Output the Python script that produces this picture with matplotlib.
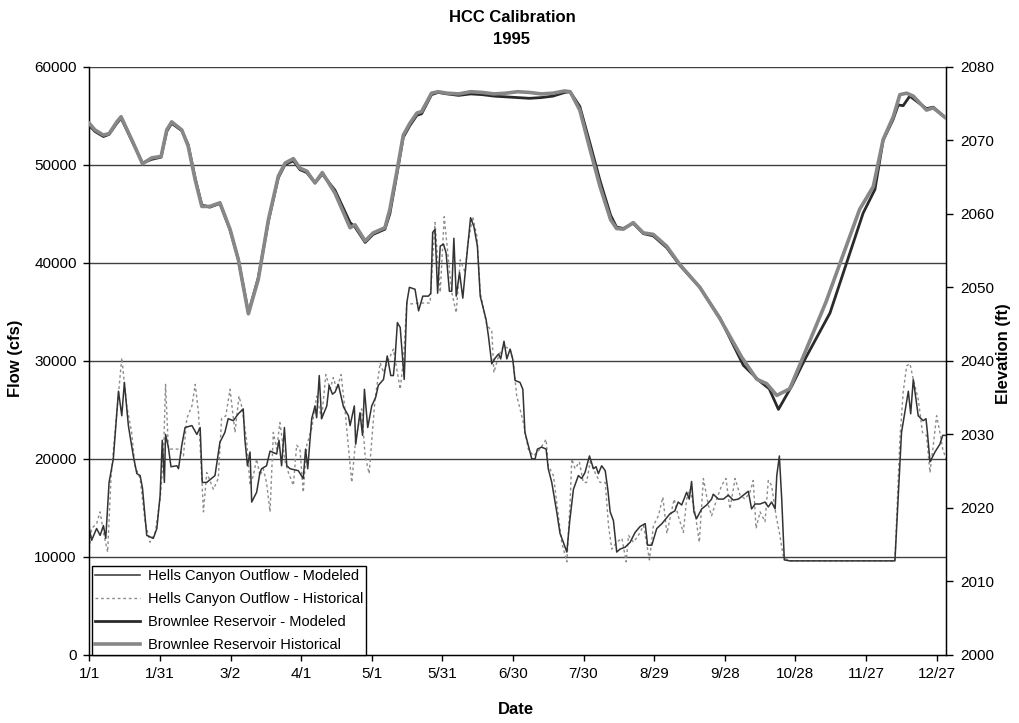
import matplotlib
matplotlib.use("Agg")
import matplotlib.pyplot as plt
from matplotlib.lines import Line2D

plt.rcParams['font.family'] = ['Liberation Sans', 'DejaVu Sans']

# ------------------------------------------------------------------
# Datos (dia del anio, 0 = 1/1)
# ------------------------------------------------------------------
tick_days = [0, 30, 60, 90, 120, 150, 180, 210, 240, 270, 300, 330, 360]
tick_labels = ["1/1", "1/31", "3/2", "4/1", "5/1", "5/31", "6/30",
               "7/30", "8/29", "9/28", "10/28", "11/27", "12/27"]

# Hells Canyon Outflow - Modeled (miles de cfs)
hc_mod_day = [0, 1.0, 3.1, 4.6, 6.0, 7.0, 8.4, 10.2, 12.4, 13.8, 14.9, 16.6, 18.7, 20.2,
              21.6, 22.6, 24.4, 27.2, 28.7, 30.1, 31.0, 31.9, 32.4, 33.6, 34.7, 37.2,
              37.9, 39.3, 40.7, 43.6, 45.7, 47.1, 48.0, 49.9, 53.4, 55.5, 57.6, 59.0,
              61.2, 63.3, 65.4, 66.1, 67.2, 68.3, 69.0, 71.1, 72.5, 73.2, 75.3, 76.8,
              79.6, 80.6, 81.7, 82.9, 83.9, 85.3, 88.8, 90.9, 91.9, 92.8, 94.5, 95.9,
              96.6, 97.7, 98.7, 100.9, 101.9, 103.3, 104.4, 105.8, 108.0, 110.1, 110.8,
              112.6, 113.2, 115.0, 116.1, 116.9, 118.3, 120.0, 121.7, 122.8, 125.0,
              126.6, 128.1, 129.2, 129.9, 130.9, 132.1, 133.8, 134.9, 136.0, 138.4,
              139.9, 141.7, 144.1, 145.1, 145.9, 146.9, 148.0, 149.1, 150.5, 151.6,
              153.0, 154.0, 154.9, 155.9, 157.3, 158.7, 160.1, 162.0, 163.4, 164.9,
              166.1, 168.6, 169.6, 171.0, 172.5, 173.9, 174.8, 176.2, 177.4, 178.8,
              179.9, 180.9, 183.0, 184.2, 185.1, 186.5, 188.0, 189.4, 190.4, 192.2,
              194.1, 195.0, 196.5, 198.6, 200.0, 201.4, 202.9, 204.1, 205.7, 207.8,
              209.2, 210.6, 212.5, 214.2, 215.3, 216.3, 217.7, 219.2, 220.3, 221.3,
              222.7, 224.1, 225.5, 227.7, 229.8, 231.9, 234.0, 236.2, 237.2, 239.0,
              241.1, 243.3, 246.7, 248.8, 250.2, 251.7, 253.8, 254.9, 255.9, 256.9,
              258.0, 260.2, 262.3, 264.4, 265.1, 267.3, 269.4, 271.5, 273.6, 275.8,
              277.9, 280.0, 281.4, 282.9, 285.0, 287.1, 288.5, 289.9, 291.4, 292.1,
              293.2, 294.2, 295.3, 297.6, 317.5, 342.3, 345.1, 346.6, 348.0, 349.0,
              350.1, 352.2, 354.3, 355.5, 356.1, 357.2, 359.3, 361.4, 362.6, 364.0]
hc_mod_flow = [12.9, 11.7, 12.9, 12.2, 13.2, 11.9, 17.6, 20.0, 26.9, 24.4, 27.8, 23.4, 20.3, 18.5,
               18.3, 17.0, 12.2, 11.9, 12.9, 16.3, 21.9, 17.6, 22.5, 21.2, 19.2, 19.3,
               19.0, 21.4, 23.2, 23.4, 22.5, 23.2, 17.6, 17.6, 18.3, 21.7, 22.7, 24.1,
               23.9, 24.6, 25.1, 22.0, 19.3, 20.7, 15.6, 16.6, 18.6, 19.0, 19.3, 20.8,
               20.5, 21.9, 19.3, 23.2, 19.3, 19.0, 18.8, 18.0, 21.0, 19.0, 24.1, 25.4,
               24.2, 28.5, 24.1, 25.4, 27.5, 26.6, 26.8, 27.6, 25.3, 24.4, 23.4,
               25.4, 21.5, 24.7, 22.4, 27.1, 23.2, 25.4, 26.3, 27.5, 28.1,
               30.5, 28.5, 28.5, 30.2, 33.9, 33.4, 28.1, 35.9, 37.5, 37.3,
               35.1, 36.6, 36.6, 36.9, 43.1, 43.4, 36.9, 41.7, 41.9, 41.0,
               37.1, 37.1, 42.5, 36.6, 39.0, 36.4, 40.0, 44.6, 43.7, 41.7,
               36.6, 34.2, 32.5, 29.7, 30.3, 30.7, 30.2, 32.0, 30.2, 31.2,
               30.2, 28.0, 27.8, 27.1, 22.7, 21.4, 20.0, 20.0, 21.0, 21.2,
               21.0, 19.0, 17.6, 14.6, 12.4, 11.5, 10.5, 13.6, 16.9, 18.3,
               18.0, 18.6, 20.3, 19.0, 19.2, 18.5, 19.3, 18.8, 16.9, 14.6,
               13.7, 10.5, 10.8, 11.0, 11.5, 12.5, 13.1, 13.4, 11.2, 11.2,
               12.9, 13.4, 14.4, 14.7, 15.6, 15.3, 16.6, 15.9, 17.7, 14.6,
               13.9, 14.9, 15.3, 15.9, 16.4, 15.9, 15.9, 16.3, 15.8, 15.9,
               16.3, 16.7, 14.9, 15.4, 15.4, 15.6, 15.1, 15.6, 14.9, 18.3,
               20.3, 15.9, 9.7, 9.6, 9.6, 9.6, 22.7, 24.9, 26.9, 24.6,
               28.1, 24.4, 23.9, 24.1, 22.7, 19.7, 20.7, 21.5, 22.4, 22.4]

# Hells Canyon Outflow - Historical (miles de cfs)
hc_his_day = [0, 1.0, 3.1, 4.6, 6.0, 7.8, 9.2, 10.9, 13.8, 15.9, 18.0, 19.4, 21.6, 23.7,
              25.8, 28.0, 30.1, 31.5, 32.4, 33.6, 35.8, 37.9, 40.0, 41.4, 43.6, 45.0,
              46.4, 48.5, 49.9, 52.7, 54.8, 56.2, 58.0, 59.8, 61.9, 63.6, 64.7, 66.8,
              68.3, 69.7, 71.1, 72.5, 73.9, 75.3, 76.8, 78.2, 79.6, 81.0, 83.2, 84.6,
              86.7, 88.1, 89.5, 90.9, 92.4, 94.5, 96.6, 98.7, 100.5, 102.3, 103.7,
              105.1, 107.0, 108.6, 111.5, 113.2, 115.7, 117.2, 118.9, 121.4, 123.6,
              125.0, 126.6, 129.2, 130.6, 132.1, 133.5, 134.9, 136.3, 140.6, 144.8,
              146.9, 148.0, 149.1, 150.8, 152.6, 154.0, 155.9, 157.6, 159.7, 160.7,
              162.9, 164.7, 166.1, 168.9, 171.0, 171.9, 173.9, 176.0, 178.8, 180.2,
              181.6, 182.3, 184.4, 186.5, 188.7, 191.5, 194.1, 195.0, 197.2, 198.6,
              200.7, 202.9, 204.3, 205.0, 206.4, 208.2, 209.9, 211.3, 212.8, 214.9,
              217.0, 219.2, 220.6, 222.0, 224.1, 226.3, 228.1, 229.1, 231.2, 233.3,
              235.5, 238.0, 239.7, 241.8, 243.7, 245.4, 246.7, 248.5, 250.2, 252.4,
              253.8, 255.2, 257.3, 259.2, 260.9, 263.0, 264.4, 266.6, 268.7, 270.5,
              272.2, 274.4, 276.5, 278.6, 280.7, 282.1, 283.3, 285.0, 287.1, 288.5,
              289.9, 291.8, 293.2, 294.9, 297.6, 342.3, 344.4, 345.8, 347.3, 348.7,
              350.1, 352.2, 354.0, 355.7, 357.2, 358.6, 360.0, 361.4, 362.6, 364.0]
hc_his_flow = [10.8, 12.9, 13.4, 14.6, 12.5, 10.5, 18.0, 22.7, 30.3, 25.4, 22.7, 19.3, 18.0, 13.6,
               11.5, 12.5, 15.9, 20.3, 27.6, 21.0, 21.0, 21.0, 20.3, 24.1, 25.4, 27.6,
               24.7, 14.6, 18.6, 16.9, 18.0, 24.1, 24.4, 27.1, 22.7, 26.4, 25.4, 22.0,
               17.3, 18.3, 20.0, 18.3, 19.0, 17.6, 14.6, 22.7, 21.0, 23.7, 19.7, 18.6,
               17.3, 21.4, 21.0, 16.6, 21.4, 23.1, 26.4, 24.1, 28.6, 27.1, 28.3,
               27.1, 28.6, 25.1, 17.6, 22.0, 25.1, 20.3, 18.5, 26.1, 29.8,
               28.8, 29.8, 31.2, 29.2, 27.1, 30.2, 35.9, 35.8, 35.9, 35.9,
               44.1, 40.3, 37.0, 44.7, 40.3, 37.0, 34.9, 40.3, 39.0, 41.7,
               44.7, 42.7, 37.0, 33.6, 33.1, 28.8, 30.5, 31.5, 31.2, 29.8,
               26.4, 25.8, 23.7, 21.0, 20.3, 21.0, 22.0, 19.3, 18.3, 15.6,
               11.5, 9.5, 15.6, 20.0, 19.0, 19.7, 17.6, 17.6, 19.7, 18.6,
               17.6, 17.6, 13.2, 10.8, 11.5, 11.9, 9.5, 12.2, 11.5, 12.2,
               13.2, 9.7, 13.2, 14.2, 16.1, 12.4, 13.9, 15.9, 14.2, 12.5,
               15.9, 16.9, 14.6, 11.5, 18.0, 15.3, 14.2, 15.9, 17.3, 18.0,
               14.9, 18.0, 16.3, 15.9, 16.6, 17.8, 12.9, 14.6, 13.6, 17.8,
               17.3, 14.2, 12.5, 10.0, 9.6, 9.6, 22.0, 26.8, 29.5, 29.7,
               28.1, 26.1, 22.7, 22.4, 18.6, 21.4, 24.4, 22.7, 21.0, 20.0]

# Brownlee Reservoir - Historical (elevacion, ft)
br_his_day = [0, 2.4, 6.0, 8.4, 11.7, 13.5, 18.0, 22.6, 26.5, 30.5, 32.9, 35.0, 39.3, 42.0,
              45.0, 47.8, 51.2, 55.5, 59.8, 63.3, 67.6, 71.8, 76.1, 80.3, 83.2, 86.7,
              89.5, 92.4, 95.9, 99.0, 104.4, 110.8, 112.9, 117.2, 120.6, 125.6, 127.7,
              130.6, 133.4, 136.2, 139.2, 141.2, 145.4, 148.2, 152, 157, 162, 167, 172,
              177, 182, 187, 192, 197, 202, 204.3, 208.4, 212.8, 217.0, 221.5, 224.0,
              226.9, 231.1, 235.4, 239.6, 245.3, 250.9, 259.4, 268.0, 277.2, 283.6,
              287.8, 292.1, 297.6, 302.6, 313.0, 327.3, 333.1, 337.3, 341.6, 344.4,
              347.3, 350.1, 355.7, 358.6, 364.0]
br_his_elev = [2072.3, 2071.4, 2070.7, 2070.9, 2072.5, 2073.2, 2070.1, 2066.8, 2067.6, 2067.8,
               2071.4, 2072.5, 2071.4, 2069.2, 2064.6, 2061.0, 2061.0, 2061.5, 2057.9,
               2053.8, 2046.4, 2051.1, 2059.2, 2065.1, 2066.9, 2067.5, 2066.2, 2065.8,
               2064.2, 2065.6, 2062.8, 2058.1, 2058.5, 2056.3, 2057.4, 2058.1, 2060.6,
               2065.6, 2070.7, 2072.3, 2073.7, 2073.9, 2076.4, 2076.6, 2076.4, 2076.3,
               2076.6, 2076.5, 2076.3, 2076.4, 2076.6, 2076.5, 2076.3, 2076.4, 2076.7,
               2076.6, 2074.1, 2068.7, 2063.7, 2059.2, 2058.0, 2057.9, 2058.8, 2057.4,
               2057.2, 2055.6, 2053.1, 2050.0, 2045.7, 2040.5, 2037.5, 2036.9, 2035.3,
               2036.2, 2040.0, 2048.0, 2060.6, 2063.7, 2070.1, 2073.2, 2076.2, 2076.4,
               2076.0, 2074.1, 2074.4, 2073.0]

# Brownlee Reservoir - Modeled (elevacion, ft)
br_mod_day = [0, 2.4, 6.0, 8.4, 11.7, 13.5, 18.0, 22.6, 26.5, 30.5, 32.9, 35.0, 39.3, 42.0,
              45.0, 47.8, 51.2, 55.5, 59.8, 63.3, 67.6, 71.8, 76.1, 80.3, 83.2, 86.7,
              89.5, 92.4, 95.9, 99.0, 104.4, 110.8, 112.9, 117.2, 120.6, 125.6, 127.7,
              130.6, 133.4, 136.2, 139.2, 141.2, 145.4, 148.2, 152, 157, 162, 167, 172,
              177, 182, 187, 192, 197, 202, 204.3, 208.4, 212.8, 217.0, 221.5, 224.0,
              226.9, 231.1, 235.4, 239.6, 245.3, 250.9, 259.4, 268.0, 277.9, 284.6,
              288.9, 292.8, 298.5, 304.2, 314.7, 328.8, 333.8, 337.3, 341.5, 343.7,
              345.8, 348.6, 355.7, 358.6, 364.0]
br_mod_elev = [2072.0, 2071.2, 2070.5, 2070.8, 2072.3, 2073.0, 2070.0, 2066.9, 2067.4, 2067.7,
               2071.2, 2072.3, 2071.3, 2069.4, 2064.8, 2061.2, 2060.9, 2061.4, 2057.8,
               2053.8, 2046.5, 2051.3, 2059.0, 2064.9, 2066.7, 2067.2, 2066.0, 2065.6,
               2064.2, 2065.4, 2063.2, 2058.8, 2058.2, 2056.1, 2057.2, 2057.9, 2060.0,
               2065.2, 2070.4, 2072.0, 2073.4, 2073.6, 2076.2, 2076.5, 2076.3, 2076.1,
               2076.3, 2076.2, 2076.0, 2075.9, 2075.8, 2075.7, 2075.8, 2076.0, 2076.5,
               2076.6, 2074.6, 2069.5, 2064.5, 2059.8, 2058.2, 2058.0, 2058.7, 2057.3,
               2057.0, 2055.4, 2053.0, 2050.0, 2045.8, 2039.4, 2037.3, 2036.2, 2033.4,
               2036.6, 2040.3, 2046.5, 2060.1, 2063.3, 2070.0, 2072.8, 2074.8, 2074.7,
               2076.0, 2074.3, 2074.5, 2073.0]

# ------------------------------------------------------------------
# Grafica
# ------------------------------------------------------------------
W, H = 1020, 723
fig = plt.figure(figsize=(W / 100, H / 100), dpi=100)
ax = fig.add_axes([89.3 / W, 1 - 655 / H, (946 - 89.3) / W, (655 - 66.7) / H])

hc_mod_cfs = [v * 1000 for v in hc_mod_flow]
hc_his_cfs = [v * 1000 for v in hc_his_flow]

for yv in range(10000, 60001, 10000):
    ax.axhline(yv, color='#404040', linewidth=1.0, zorder=0)

ax.plot(hc_his_day, hc_his_cfs, color='#8c8c8c', linewidth=1.0, linestyle=(0, (2, 2)), zorder=2)
ax.plot(hc_mod_day, hc_mod_cfs, color='#333333', linewidth=1.1, zorder=3)

ax.set_xlim(0, 364)
ax.set_ylim(0, 60000)
ax.set_yticks(range(0, 60001, 10000))
ax.set_xticks(tick_days)
ax.set_xticklabels(tick_labels)
ax.tick_params(direction='out', length=4, width=1, labelsize=11, colors='black')
ax.tick_params(axis='y', pad=5)
ax.tick_params(axis='x', pad=5)
ax.spines['top'].set_visible(False)
for s in ['left', 'bottom', 'right']:
    ax.spines[s].set_linewidth(1.0)

ax2 = ax.twinx()
ax2.plot(br_mod_day, br_mod_elev, color='#2a2a2a', linewidth=2.0, zorder=3)
ax2.plot(br_his_day, br_his_elev, color='#878787', linewidth=2.6, zorder=4)
ax2.set_ylim(2000, 2080)
ax2.set_yticks(range(2000, 2081, 10))
ax2.tick_params(direction='out', length=5, width=1, labelsize=11, pad=5)
ax2.spines['top'].set_visible(False)

# Titulos y etiquetas de ejes
fig.text(512 / W, 1 - 17 / H, 'HCC Calibration', ha='center', va='center',
         fontsize=12, fontweight='bold')
fig.text(512 / W, 1 - 40 / H, '1995', ha='center', va='center',
         fontsize=12, fontweight='bold')
fig.text(16 / W, 1 - 358 / H, 'Flow (cfs)', ha='center', va='center', rotation=90,
         fontsize=12, fontweight='bold')
fig.text(1004 / W, 1 - 354 / H, 'Elevation (ft)', ha='center', va='center', rotation=90,
         fontsize=12, fontweight='bold')
fig.text(516 / W, 1 - 709 / H, 'Date', ha='center', va='center',
         fontsize=12, fontweight='bold')

handles = [
    Line2D([], [], color='#333333', linewidth=1.1),
    Line2D([], [], color='#8c8c8c', linewidth=1.0, linestyle=(0, (2, 2))),
    Line2D([], [], color='#2a2a2a', linewidth=2.0),
    Line2D([], [], color='#878787', linewidth=2.6),
]
labels = ['Hells Canyon Outflow - Modeled', 'Hells Canyon Outflow - Historical',
          'Brownlee Reservoir - Modeled', 'Brownlee Reservoir Historical']
leg = ax2.legend(handles, labels, loc='lower left', bbox_to_anchor=(0.003, 0.0),
                 borderaxespad=0, fancybox=False, framealpha=1, edgecolor='black',
                 fontsize=10.5, handlelength=3.1, handletextpad=0.55, labelspacing=0.62,
                 borderpad=0.2)
leg.get_frame().set_linewidth(1.0)

plt.savefig('out.png', dpi=100)
plt.close()
